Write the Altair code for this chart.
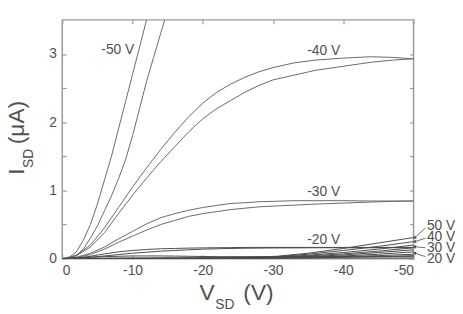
import altair as alt
import pandas as pd

# ---------------- data ----------------
# gate -50 V (two sweeps, run off the top)
v_m50a = [0, -1, -2, -3, -4, -5, -6, -7, -8, -9, -10, -11, -12, -13]
i_m50a = [0, 0.02, 0.10, 0.27, 0.50, 0.80, 1.15, 1.50, 1.90, 2.30, 2.70, 3.10, 3.50, 3.90]
v_m50b = [0, -1, -2, -3, -4, -5, -6, -7, -8, -9, -10, -11, -12, -13, -14, -15]
i_m50b = [0, 0.01, 0.05, 0.14, 0.30, 0.48, 0.70, 0.92, 1.17, 1.45, 1.80, 2.20, 2.60, 2.95, 3.30, 3.65]

grid = [0, -2, -4, -6, -8, -10, -12, -14, -16, -18, -20, -22, -24, -26, -28, -30,
        -33, -36, -40, -44, -47, -50]
i_m40a = [0, 0.05, 0.20, 0.45, 0.75, 1.05, 1.33, 1.60, 1.85, 2.08, 2.28, 2.44, 2.56, 2.66,
          2.74, 2.80, 2.87, 2.91, 2.94, 2.96, 2.95, 2.93]
i_m40b = [0, 0.04, 0.17, 0.38, 0.66, 0.93, 1.18, 1.42, 1.64, 1.86, 2.05, 2.20, 2.32, 2.44,
          2.54, 2.62, 2.69, 2.76, 2.82, 2.88, 2.91, 2.93]
i_m30a = [0, 0.02, 0.08, 0.17, 0.29, 0.40, 0.51, 0.60, 0.66, 0.71, 0.75, 0.78, 0.81, 0.82,
          0.835, 0.84, 0.85, 0.85, 0.85, 0.845, 0.845, 0.845]
i_m30b = [0, 0.015, 0.06, 0.14, 0.24, 0.33, 0.42, 0.50, 0.56, 0.62, 0.66, 0.69, 0.72, 0.74,
          0.76, 0.77, 0.785, 0.80, 0.815, 0.83, 0.84, 0.845]
i_m20a = [0, 0.01, 0.035, 0.07, 0.10, 0.12, 0.135, 0.145, 0.15, 0.155, 0.158, 0.16, 0.162,
          0.165, 0.165, 0.165, 0.165, 0.165, 0.165, 0.165, 0.165, 0.165]
i_m20b = [0, 0.005, 0.02, 0.04, 0.06, 0.08, 0.095, 0.11, 0.12, 0.13, 0.14, 0.145, 0.15,
          0.153, 0.155, 0.157, 0.158, 0.16, 0.16, 0.16, 0.16, 0.16]
i_m10a = [0, 0.01, 0.02, 0.03, 0.035, 0.04, 0.04, 0.04, 0.038, 0.035, 0.032, 0.03, 0.03,
          0.03, 0.03, 0.03, 0.03, 0.03, 0.03, 0.03, 0.03, 0.03]
i_m10b = [0, 0.003, 0.006, 0.008, 0.01, 0.01, 0.01, 0.01, 0.01, 0.01, 0.01, 0.01, 0.01,
          0.01, 0.01, 0.01, 0.01, 0.01, 0.01, 0.01, 0.01, 0.01]

# positive gate voltages (two sweeps each)
pgrid = [0, -10, -20, -25, -30, -35, -40, -45, -50]
i_p50a = [0, 0.005, 0.01, 0.015, 0.03, 0.08, 0.15, 0.23, 0.31]
i_p50b = [0, 0.003, 0.008, 0.012, 0.025, 0.065, 0.12, 0.18, 0.25]
i_p40a = [0, 0.003, 0.006, 0.01, 0.02, 0.05, 0.09, 0.14, 0.20]
i_p40b = [0, 0.002, 0.005, 0.008, 0.015, 0.04, 0.07, 0.11, 0.16]
i_p30a = [0, 0.002, 0.004, 0.006, 0.012, 0.03, 0.055, 0.09, 0.13]
i_p30b = [0, 0.001, 0.003, 0.005, 0.01, 0.022, 0.04, 0.065, 0.10]
i_p20a = [0, 0.001, 0.002, 0.004, 0.008, 0.015, 0.03, 0.045, 0.065]
i_p20b = [0, 0.001, 0.002, 0.003, 0.005, 0.01, 0.02, 0.03, 0.045]

# in-plot labels
lab_text = ["-50 V", "-40 V", "-30 V", "-20 V"]
lab_v = [-7.9, -37.2, -37.2, -37.2]
lab_i = [3.06, 3.05, 0.975, 0.28]

# right-hand labels with arrows
rlab_text = ["50 V", "40 V", "30 V", "20 V"]
rlab_v = [-51.9, -51.9, -51.9, -51.9]
rlab_i = [0.48, 0.318, 0.16, 0.0]
arr_v0 = [-51.7, -51.7, -51.7, -51.7]
arr_i0 = [0.45, 0.30, 0.16, 0.03]
arr_v1 = [-50.2, -50.2, -50.2, -50.2]
arr_i1 = [0.31, 0.25, 0.175, 0.08]
arr_angle = [228, 252, 275, 288]

x_ticks = [0, -10, -20, -30, -40, -50]
y_ticks = [0, 0.5, 1, 1.5, 2, 2.5, 3]

# ---------------- build table ----------------
FONT = "Liberation Sans"
LINE = "#6a6a6a"
DARK = "#4a4a4a"
FRAME = "#9a9a9a"
TEXT = "#505050"

rows = []
def add(name, vs, ys, col):
    for k, (v, y) in enumerate(zip(vs, ys)):
        rows.append({"curve": name, "V": v, "I": y, "col": col, "k": k})

add("m50a", v_m50a, i_m50a, LINE)
add("m50b", v_m50b, i_m50b, LINE)
add("m40a", grid, i_m40a, LINE)
add("m40b", grid, i_m40b, LINE)
add("m30a", grid, i_m30a, LINE)
add("m30b", grid, i_m30b, LINE)
add("m20a", grid, i_m20a, DARK)
add("m20b", grid, i_m20b, DARK)
add("m10a", grid, i_m10a, DARK)
add("m10b", grid, i_m10b, DARK)
for nm, arr in [("p50a", i_p50a), ("p50b", i_p50b), ("p40a", i_p40a), ("p40b", i_p40b),
                ("p30a", i_p30a), ("p30b", i_p30b), ("p20a", i_p20a), ("p20b", i_p20b)]:
    add(nm, pgrid, arr, DARK)
df = pd.DataFrame(rows)

labels = pd.DataFrame({"t": lab_text, "V": lab_v, "I": lab_i})
rlabels = pd.DataFrame({"t": rlab_text, "V": rlab_v, "I": rlab_i})
arrows = pd.DataFrame({"V": arr_v0, "I": arr_i0, "V2": arr_v1, "I2": arr_i1, "a": arr_angle})

xs = alt.Scale(domain=[0, -50], nice=False)
ys = alt.Scale(domain=[0, 3.5], nice=False)

ax_common = dict(grid=False, domain=False, tickColor=FRAME, tickWidth=1.2, tickSize=4,
                 offset=-4, title=None, labelFont=FONT, labelFontSize=14,
                 labelColor=TEXT)

x_bottom = alt.Axis(orient="bottom", values=x_ticks, labelExpr="'' + datum.value",
                    labelPadding=5, **ax_common)
y_left = alt.Axis(orient="left", values=y_ticks,
                  labelExpr="datum.value % 1 == 0 ? '' + datum.value : ''",
                  labelPadding=6, **ax_common)
x_top = alt.Axis(orient="top", values=x_ticks, labels=False, **ax_common)
y_right = alt.Axis(orient="right", values=y_ticks, labels=False, **ax_common)

lines = alt.Chart(df).mark_line(strokeWidth=1, clip=True).encode(
    x=alt.X("V:Q", scale=xs, axis=x_bottom),
    y=alt.Y("I:Q", scale=ys, axis=y_left),
    detail="curve:N",
    color=alt.Color("col:N", scale=None),
    order="k:Q",
)

frame_axes = alt.Chart(df).mark_point(opacity=0).encode(
    x=alt.X("V:Q", scale=xs, axis=x_top),
    y=alt.Y("I:Q", scale=ys, axis=y_right),
)

def X(field):
    return alt.X(field, scale=xs, axis=None)

def Y(field):
    return alt.Y(field, scale=ys, axis=None)

txt = alt.Chart(labels).mark_text(font=FONT, fontSize=14, color=TEXT, align="center",
                                  baseline="middle").encode(
    x=X("V:Q"), y=Y("I:Q"), text="t:N")

rtxt = alt.Chart(rlabels).mark_text(font=FONT, fontSize=14, color=TEXT, align="left",
                                    baseline="middle").encode(
    x=X("V:Q"), y=Y("I:Q"), text="t:N")

arr_lines = alt.Chart(arrows).mark_rule(color=DARK, strokeWidth=0.8).encode(
    x=X("V:Q"), y=Y("I:Q"), x2="V2:Q", y2="I2:Q")

arr_heads = alt.Chart(arrows).mark_point(shape="triangle", filled=True, size=14,
                                         color=DARK, opacity=1).encode(
    x=X("V2:Q"), y=Y("I2:Q"),
    angle=alt.Angle("a:Q", scale=None))

# axis titles with subscripts
def ptext(t, x, y, size, angle=0):
    kw = dict(font=FONT, fontSize=size, color=TEXT, align="left", baseline="alphabetic")
    if angle:
        kw["angle"] = angle
    return alt.Chart(pd.DataFrame({"t": [t]})).mark_text(**kw).encode(
        x=alt.value(x), y=alt.value(y), text="t:N")

titles = [
    ptext("V", 139, 284, 23),
    ptext("SD", 155, 293.5, 14),
    ptext("(V)", 183.5, 284, 23),
    ptext("I", -39, 157, 23, 270),
    ptext("SD", -30, 150, 14, 270),
    ptext("(μA)", -39, 126, 23, 270),
]

chart = alt.layer(lines, frame_axes, txt, rtxt, arr_lines, arr_heads, *titles).resolve_axis(
    x="independent", y="independent"
).properties(
    width=356, height=242,
    autosize=alt.AutoSizeParams(type="none"),
    padding={"left": 55, "top": 10, "right": 42, "bottom": 52},
    background="white",
).configure_view(stroke=FRAME, strokeWidth=1.5)

chart.save("out.html", embed_options={"renderer": "svg", "actions": False})
